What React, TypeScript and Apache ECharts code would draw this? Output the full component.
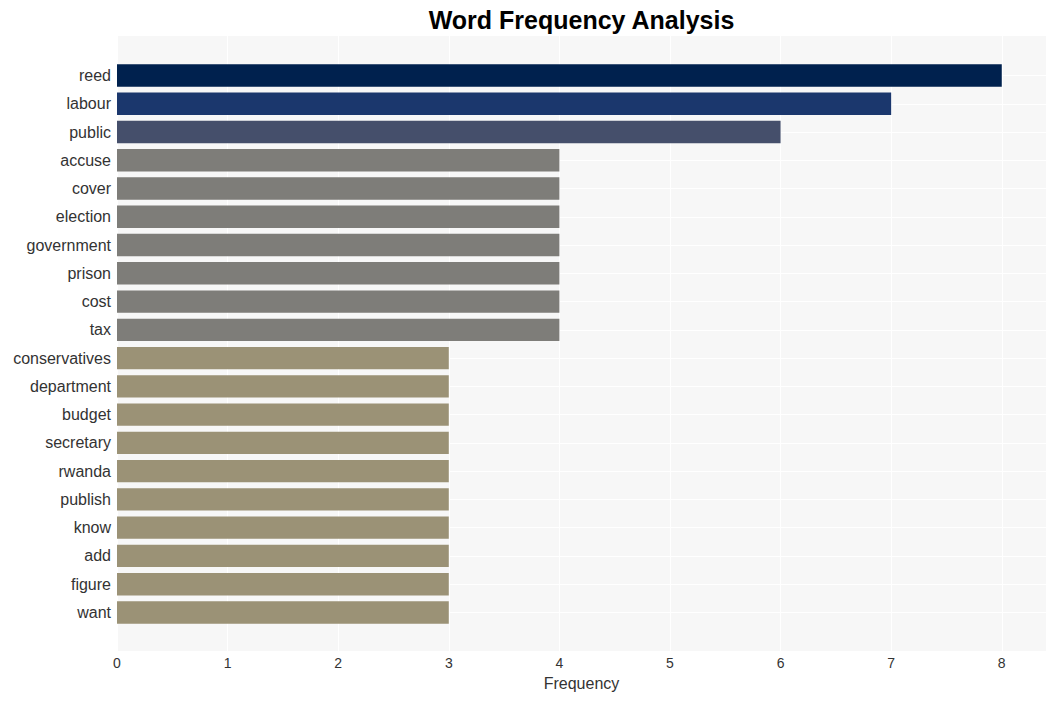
import React, { useEffect, useRef } from "react";
import * as echarts from "echarts";

const categories = [
  "reed", "labour", "public", "accuse", "cover", "election", "government", "prison", "cost", "tax",
  "conservatives", "department", "budget", "secretary", "rwanda", "publish", "know", "add", "figure", "want",
];
const values = [8, 7, 6, 4, 4, 4, 4, 4, 4, 4, 3, 3, 3, 3, 3, 3, 3, 3, 3, 3];
const colors = [
  "#00214e", "#1b376d", "#454f6b",
  "#7e7d79", "#7e7d79", "#7e7d79", "#7e7d79", "#7e7d79", "#7e7d79", "#7e7d79",
  "#9b9276", "#9b9276", "#9b9276", "#9b9276", "#9b9276", "#9b9276", "#9b9276", "#9b9276", "#9b9276", "#9b9276",
];
const xTicks = [0, 1, 2, 3, 4, 5, 6, 7, 8];

export default function App() {
  const ref = useRef<HTMLDivElement>(null);
  useEffect(() => {
    if (!ref.current) return;
    document.body.style.margin = "0";
    const chart = echarts.init(ref.current, undefined, { renderer: "svg" });
    const font = "'Liberation Sans', Arial, Helvetica, sans-serif";
    const L = 117, W = 929, T = 36, H = 615;
    const step = 28.26;
    chart.setOption({
      animation: false,
      backgroundColor: "#ffffff",
      title: {
        text: "Word Frequency Analysis",
        left: L + W / 2 - 5,
        textAlign: "center",
        top: 2,
        textStyle: { fontFamily: font, fontWeight: "bold", fontSize: 25, color: "#000" },
      },
      grid: [
        { left: L, top: T, width: W, height: H, show: true, backgroundColor: "#f7f7f7", borderWidth: 0 },
        { left: L, top: 75.5, width: W, height: step * (categories.length - 1), show: false },
      ],
      xAxis: [
        {
          gridIndex: 0,
          type: "value",
          min: 0,
          max: 8.4,
          interval: 1,
          axisLine: { show: false },
          axisTick: { show: false },
          axisLabel: {
            fontFamily: font,
            fontSize: 14,
            color: "#333",
            margin: 5,
            customValues: xTicks,
          },
          splitLine: { show: true, lineStyle: { color: "#ffffff", width: 1 } },
          name: "Frequency",
          nameLocation: "middle",
          nameGap: 24,
          nameTextStyle: { fontFamily: font, fontSize: 16, color: "#333" },
        },
        {
          gridIndex: 1,
          type: "value",
          min: 0,
          max: 8.4,
          show: false,
          splitLine: { show: false },
        },
      ],
      yAxis: [
        { gridIndex: 0, type: "value", show: false, splitLine: { show: false } },
        {
          gridIndex: 1,
          type: "category",
          data: categories,
          inverse: true,
          boundaryGap: false,
          axisLine: { show: false },
          axisTick: { show: false },
          axisLabel: { fontFamily: font, fontSize: 16, color: "#333", margin: 6, interval: 0 },
          splitLine: { show: true, interval: 0, lineStyle: { color: "#ffffff", width: 1 } },
        },
      ],
      series: [
        {
          type: "bar",
          xAxisIndex: 1,
          yAxisIndex: 1,
          clip: false,
          barWidth: 22.4,
          data: values.map((v, i) => ({ value: v, itemStyle: { color: colors[i] } })),
          z: 3,
        },
      ],
    });
    return () => chart.dispose();
  }, []);
  return <div ref={ref} style={{ width: 1056, height: 701 }} />;
}
